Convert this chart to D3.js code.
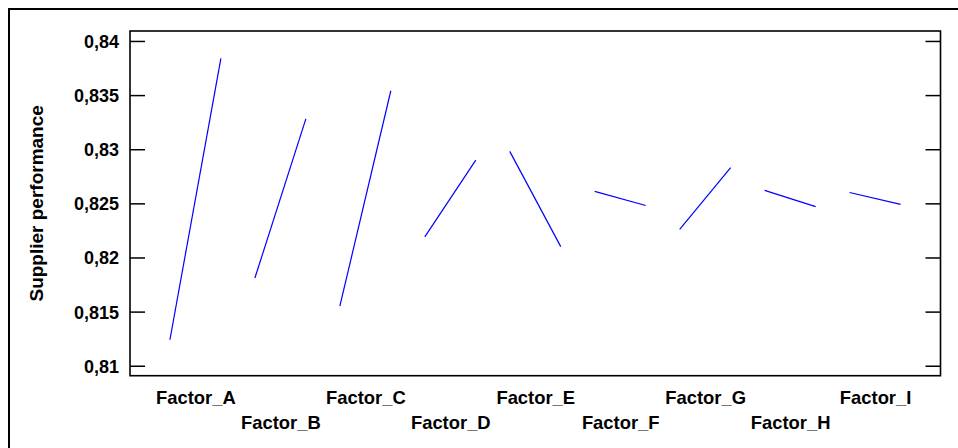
<!DOCTYPE html>
<html>
<head>
<meta charset="utf-8">
<script src="https://cdn.jsdelivr.net/npm/d3@7"></script>
<style>
  html, body { margin: 0; padding: 0; background: #fff; }
  svg { display: block; font-family: "Liberation Sans", Arial, sans-serif; }
  .tick text { font-weight: bold; fill: #000; }
</style>
</head>
<body>
<svg id="chart" width="958" height="448"></svg>
<script>
// Main effects on supplier performance: each factor from its low to its high level
const factors = ["Factor_A", "Factor_B", "Factor_C", "Factor_D", "Factor_E",
                 "Factor_F", "Factor_G", "Factor_H", "Factor_I"];
const lowLevel  = [0.8124, 0.8181, 0.8155, 0.8219, 0.8298, 0.8261, 0.8226, 0.8262, 0.8260];
const highLevel = [0.8384, 0.8328, 0.8354, 0.8290, 0.8210, 0.8248, 0.8283, 0.8247, 0.8249];
const yTicks = [0.81, 0.815, 0.82, 0.825, 0.83, 0.835, 0.84];
const yTitle = "Supplier performance";

const svg = d3.select("#chart");

// outer frame (top and left edges visible)
svg.append("rect")
  .attr("x", 9).attr("y", 9).attr("width", 1000).attr("height", 1000)
  .attr("fill", "none").attr("stroke", "#000").attr("stroke-width", 2);

const plot = { left: 130, top: 31, right: 940.5, bottom: 375.7 };

const x = d3.scaleLinear().domain([-0.77, 8.77]).range([plot.left, plot.right]);
const y = d3.scaleLinear().domain([0.80908, 0.84092]).range([plot.bottom, plot.top]);
const half = 0.3;

const fmt = d => d3.format(".3~f")(d).replace(".", ",");

// left axis with inward ticks
const gl = svg.append("g").attr("transform", `translate(${plot.left},0)`)
  .call(d3.axisLeft(y).tickValues(yTicks).tickFormat(fmt).tickSize(-15).tickPadding(11));
gl.select(".domain").remove();
gl.selectAll(".tick line").attr("stroke", "#000").attr("stroke-width", 1.5);
gl.selectAll(".tick text").attr("font-size", 18).attr("dy", "0.36em");

// right axis, ticks only
const gr = svg.append("g").attr("transform", `translate(${plot.right},0)`)
  .call(d3.axisRight(y).tickValues(yTicks).tickFormat("").tickSize(-15));
gr.select(".domain").remove();
gr.selectAll(".tick line").attr("stroke", "#000").attr("stroke-width", 1.5);

// bottom factor labels, staggered in two rows
const gb = svg.append("g").attr("transform", `translate(0,${plot.bottom})`)
  .call(d3.axisBottom(x).tickValues(d3.range(factors.length))
    .tickFormat(i => factors[i]).tickSize(0));
gb.select(".domain").remove();
gb.selectAll(".tick text")
  .attr("font-size", 18.4)
  .attr("dy", null)
  .attr("y", (d, i) => i % 2 === 0 ? 28.6 : 53.3);

// plot frame
svg.append("rect")
  .attr("x", plot.left).attr("y", plot.top)
  .attr("width", plot.right - plot.left).attr("height", plot.bottom - plot.top)
  .attr("fill", "none").attr("stroke", "#000").attr("stroke-width", 1.6);

// effect lines
const line = d3.line().x(d => x(d[0])).y(d => y(d[1]));
svg.append("g").selectAll("path")
  .data(factors.map((f, i) => [[i - half, lowLevel[i]], [i + half, highLevel[i]]]))
  .join("path")
  .attr("d", line)
  .attr("fill", "none")
  .attr("stroke", "#0000ff")
  .attr("stroke-width", 1.2);

// y-axis title
svg.append("text")
  .attr("transform", `translate(42.5,${(plot.top + plot.bottom) / 2}) rotate(-90)`)
  .attr("text-anchor", "middle")
  .attr("font-size", 19)
  .attr("font-weight", "bold")
  .text(yTitle);
</script>
</body>
</html>
